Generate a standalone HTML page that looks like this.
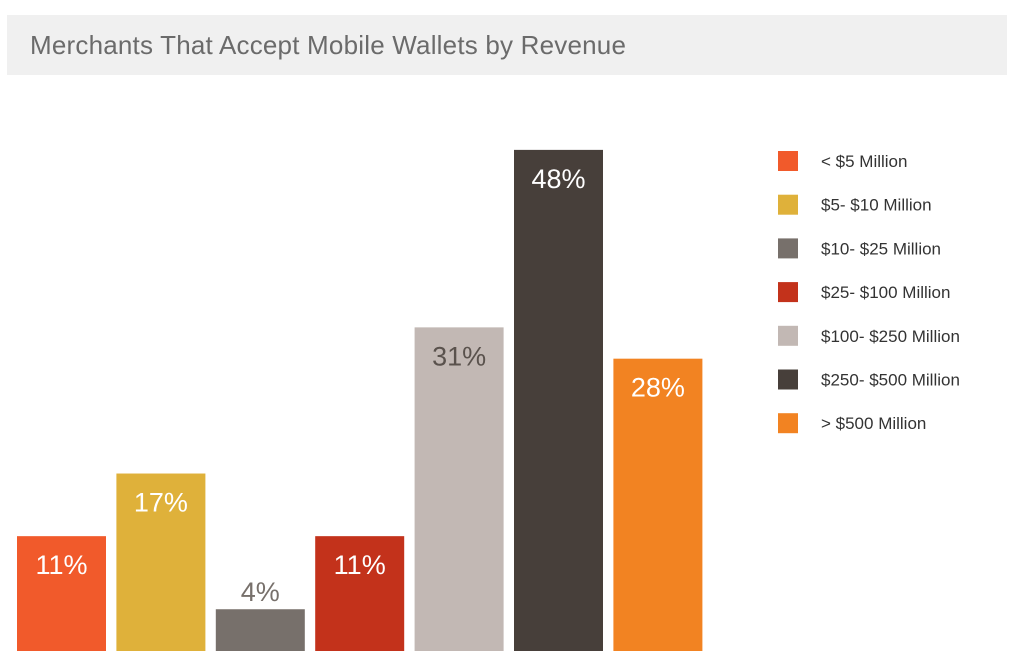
<!DOCTYPE html>
<html><head><meta charset="utf-8">
<style>
body{margin:0;background:#fff;width:1024px;height:663px;overflow:hidden;font-family:"Liberation Sans",sans-serif;}
#title-bar{position:absolute;left:7px;top:15px;width:1000px;height:60px;background:#f0f0f0;}
#title{position:absolute;left:23px;top:15px;font-size:26px;color:#6b6b6b;letter-spacing:0.2px;}
svg{position:absolute;left:0;top:0;}
</style></head><body>
<div id="title-bar"><div id="title">Merchants That Accept Mobile Wallets by Revenue</div></div>
<svg id="chart" width="1024" height="663"></svg>
<script>
const categories=["< $5 Million","$5- $10 Million","$10- $25 Million","$25- $100 Million","$100- $250 Million","$250- $500 Million","> $500 Million"];
const values=[11,17,4,11,31,48,28];
const colors=["#f15a2b","#dfb13a","#77706b","#c3321b","#c2b8b4","#473f3a","#f28322"];
const labelColors=["#fff","#fff","#77706b","#fff","#5a524d","#fff","#fff"];
const svg=document.getElementById('chart');
const NS='http://www.w3.org/2000/svg';
const baseY=651, pxPer=10.44, x0=17, step=99.4, bw=89;
const y=v=>baseY-v*pxPer;
const xb=i=>x0+i*step;
values.forEach((v,i)=>{
  const r=document.createElementNS(NS,'rect');
  r.setAttribute('x',xb(i));r.setAttribute('y',y(v));r.setAttribute('width',bw);r.setAttribute('height',baseY-y(v));r.setAttribute('fill',colors[i]);
  
  
  svg.appendChild(r);
  const t=document.createElementNS(NS,'text');
  const inside=v>=8;
  t.setAttribute('x',xb(i)+bw/2);t.setAttribute('y',inside?y(v)+38:y(v)-8);
  t.setAttribute('text-anchor','middle');t.setAttribute('font-size','27');
  t.setAttribute('fill',labelColors[i]);t.textContent=v+'%';
  
  
  svg.appendChild(t);
  const ly=161+i*43.7;
  const s=document.createElementNS(NS,'rect');
  s.setAttribute('x',778);s.setAttribute('y',ly-10);s.setAttribute('width',20);s.setAttribute('height',20);s.setAttribute('fill',colors[i]);
  
  
  svg.appendChild(s);
  const lt=document.createElementNS(NS,'text');
  lt.setAttribute('x',821);lt.setAttribute('y',ly+6);lt.setAttribute('font-size','17');lt.setAttribute('fill','#333');
  lt.textContent=categories[i];
  
  
  svg.appendChild(lt);
});
</script>
</body></html>
